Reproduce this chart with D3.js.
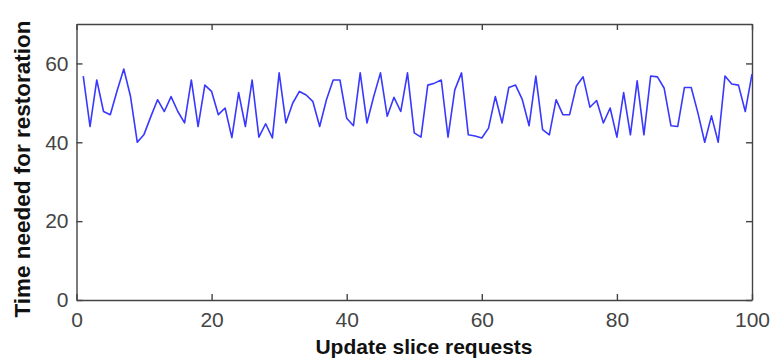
<!DOCTYPE html>
<html>
<head>
<meta charset="utf-8">
<script src="https://cdn.jsdelivr.net/npm/d3@7"></script>
<style>
  body { margin: 0; background: #fff; }
  svg { display: block; }
  .tick text { font-family: "Liberation Sans", Arial, sans-serif; fill: #444; }
</style>
</head>
<body>
<div id="chart"></div>
<script>
// restoration time per update slice request
const requests = d3.range(1, 101);
const restoreTime = [
  56.8, 44.0, 55.8, 47.8, 47.0, 53.0, 58.6, 51.6, 40.0, 42.0,
  46.5, 50.8, 47.8, 51.6, 47.8, 44.9, 55.8, 44.0, 54.5, 52.9,
  47.0, 48.7, 41.2, 52.6, 44.0, 55.8, 41.3, 44.7, 41.1, 57.6,
  44.9, 49.9, 52.9, 52.0, 50.3, 44.0, 50.8, 55.8, 55.8, 46.1,
  44.2, 57.6, 44.9, 51.6, 57.6, 46.6, 51.4, 47.8, 57.6, 42.4,
  41.3, 54.5, 55.0, 55.8, 41.3, 53.3, 57.6, 41.9, 41.6, 41.1,
  43.6, 51.6, 44.9, 53.9, 54.5, 50.8, 44.2, 56.8, 43.2, 41.9,
  50.8, 47.0, 47.0, 54.3, 56.6, 48.9, 50.6, 44.9, 48.7, 41.3,
  52.6, 41.9, 55.6, 41.9, 56.8, 56.6, 53.7, 44.2, 44.0, 53.9,
  53.9, 47.4, 40.0, 46.7, 40.0, 56.8, 54.8, 54.5, 47.8, 57.3
];
const xTicks = [0, 20, 40, 60, 80, 100];
const yTicks = [0, 20, 40, 60];

const W = 773, H = 361;
const margin = { top: 24, right: 21, bottom: 61, left: 76.5 };
const width = W - margin.left - margin.right;
const height = H - margin.top - margin.bottom;

const svg = d3.select('#chart').append('svg')
  .attr('width', W)
  .attr('height', H);

const g = svg.append('g')
  .attr('transform', `translate(${margin.left},${margin.top})`);

const x = d3.scaleLinear().domain([0, 100]).range([0, width]);
const y = d3.scaleLinear().domain([0, 70]).range([height, 0]);

const axisColor = '#444';
const tickFont = '21px';

// bottom / left axes with inward ticks
const xAxis = g.append('g')
  .attr('transform', `translate(0,${height})`)
  .call(d3.axisBottom(x).tickValues(xTicks).tickSize(-6).tickSizeOuter(0).tickPadding(12));
const yAxis = g.append('g')
  .call(d3.axisLeft(y).tickValues(yTicks).tickSize(-6).tickSizeOuter(0).tickPadding(8));
// top / right axes, ticks only
const xTop = g.append('g')
  .call(d3.axisTop(x).tickValues(xTicks).tickSize(-6).tickSizeOuter(0).tickFormat(''));
const yRight = g.append('g')
  .attr('transform', `translate(${width},0)`)
  .call(d3.axisRight(y).tickValues(yTicks).tickSize(-6).tickSizeOuter(0).tickFormat(''));

[xAxis, yAxis, xTop, yRight].forEach(a => {
  a.selectAll('path, line').attr('stroke', axisColor).attr('stroke-width', 1.4);
  a.selectAll('text').style('font-size', tickFont);
});
xAxis.selectAll('text').attr('dy', '0.72em');

const line = d3.line()
  .x((d, i) => x(requests[i]))
  .y(d => y(d));

g.append('path')
  .datum(restoreTime)
  .attr('fill', 'none')
  .attr('stroke', '#3838ff')
  .attr('stroke-width', 1.6)
  .attr('stroke-linejoin', 'round')
  .attr('d', line);

svg.append('text')
  .attr('x', 424)
  .attr('y', 354)
  .attr('text-anchor', 'middle')
  .style('font-family', '"Liberation Sans", Arial, sans-serif')
  .style('font-weight', 'bold')
  .style('font-size', '21px')
  .attr('fill', '#111')
  .text('Update slice requests');

svg.append('text')
  .attr('transform', `translate(30,169) rotate(-90)`)
  .attr('text-anchor', 'middle')
  .style('font-family', '"Liberation Sans", Arial, sans-serif')
  .style('font-weight', 'bold')
  .style('font-size', '22.5px')
  .attr('fill', '#111')
  .text('Time needed for restoration');
</script>
</body>
</html>
